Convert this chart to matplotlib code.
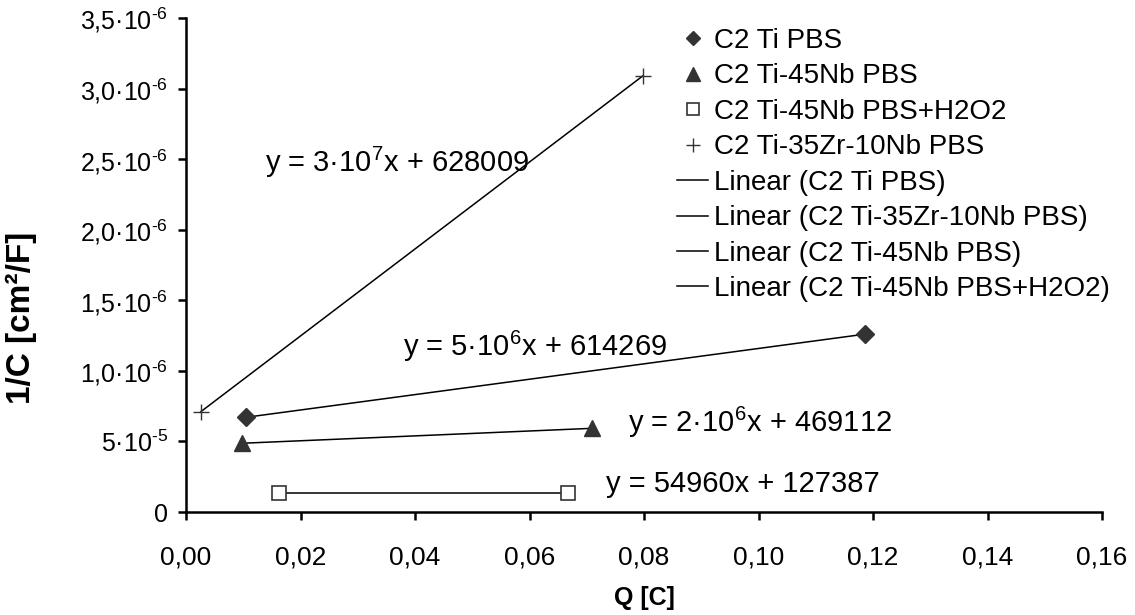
import matplotlib
matplotlib.use("Agg")
import matplotlib.pyplot as plt
import numpy as np

plt.rcParams["font.family"] = ["Liberation Sans", "DejaVu Sans"]
plt.rcParams["mathtext.fontset"] = "custom"
plt.rcParams["mathtext.rm"] = "Liberation Sans"
plt.rcParams["mathtext.it"] = "Liberation Sans"
plt.rcParams["mathtext.default"] = "rm"

# data (Q [C], 1/C)
ti_x = [0.0105, 0.1186]
ti_y = [671000, 1260000]
nb_x = [0.0098, 0.0710]
nb_y = [487000, 593000]
h2o2_x = [0.0163, 0.0668]
h2o2_y = [132500, 132500]
zr_x = [0.0026, 0.0798]
zr_y = [711000, 3090000]

eqs = ["y = 3·10$^{7}$x + 628009", "y = 5·10$^{6}$x + 614269",
       "y = 2·10$^{6}$x + 469112", "y = 54960x + 127387"]
eq_pos = [(0.0138, 2.48e6), (0.0379, 1.176e6), (0.0772, 0.638e6), (0.0734, 0.198e6)]

xticks = np.arange(0, 0.161, 0.02)
xtick_labels = ["0,00", "0,02", "0,04", "0,06", "0,08", "0,10", "0,12", "0,14", "0,16"]
yticks = np.arange(0, 3.51e6, 0.5e6)
ytick_labels = ["0", r"5·10$^{\text{-}5}$", r"1,0·10$^{\text{-}6}$", r"1,5·10$^{\text{-}6}$",
                r"2,0·10$^{\text{-}6}$", r"2,5·10$^{\text{-}6}$", r"3,0·10$^{\text{-}6}$",
                r"3,5·10$^{\text{-}6}$"]

mc = "#333333"

fig = plt.figure(figsize=(11.35, 6.15), dpi=100)
ax = fig.add_axes([186 / 1135, 1 - 512 / 615, 916 / 1135, 494 / 615])

# markers
ax.plot(ti_x, ti_y, ls="none", marker="D", ms=9, color=mc, label="C2 Ti PBS")
ax.plot(nb_x, nb_y, ls="none", marker="^", ms=12, color=mc, label="C2 Ti-45Nb PBS")
ax.plot(h2o2_x, h2o2_y, ls="none", marker="s", ms=10, mfc="white", mec=mc, mew=1.2,
        label="C2 Ti-45Nb PBS+H2O2")
ax.plot(zr_x, zr_y, ls="none", marker="+", ms=12, color=mc, mew=1.0,
        label="C2 Ti-35Zr-10Nb PBS")

# linear trendlines
for xs, ys, lab in [(ti_x, ti_y, "Linear (C2 Ti PBS)"),
                    (zr_x, zr_y, "Linear (C2 Ti-35Zr-10Nb PBS)"),
                    (nb_x, nb_y, "Linear (C2 Ti-45Nb PBS)"),
                    (h2o2_x, h2o2_y, "Linear (C2 Ti-45Nb PBS+H2O2)")]:
    k, b = np.polyfit(xs, ys, 1)
    xx = np.array([min(xs), max(xs)])
    ax.plot(xx, k * xx + b, color="black", lw=1.1, label=lab, zorder=1)

for txt, (tx, ty) in zip(eqs, eq_pos):
    ax.text(tx, ty, txt, fontsize=21, va="center", ha="left")

ax.set_xlim(0, 0.16)
ax.set_ylim(0, 3.5e6)
ax.set_xticks(xticks)
ax.set_xticklabels(xtick_labels)
ax.set_yticks(yticks)
ax.set_yticklabels(ytick_labels)
ax.tick_params(width=1.8, length=6, direction="out")
ax.tick_params(axis="x", labelsize=19, pad=18)
ax.tick_params(axis="y", labelsize=18, pad=7)
for s in ["top", "right"]:
    ax.spines[s].set_visible(False)
for s in ["left", "bottom"]:
    ax.spines[s].set_linewidth(1.8)

ax.set_xlabel("Q [C]", fontsize=18, fontweight="bold", labelpad=12)
ax.set_ylabel("1/C [cm²/F]", fontsize=24, fontweight="bold")
ax.yaxis.set_label_coords(-0.163, 0.393)

ax.legend(loc="upper left", bbox_to_anchor=(677 / 1135, 1 - 28 / 615),
          bbox_transform=fig.transFigure, frameon=False, fontsize=20,
          handlelength=1.12, handletextpad=0.22, labelspacing=0.34,
          borderpad=0, borderaxespad=0, markerscale=0.8)

fig.savefig("out.png", dpi=100)
